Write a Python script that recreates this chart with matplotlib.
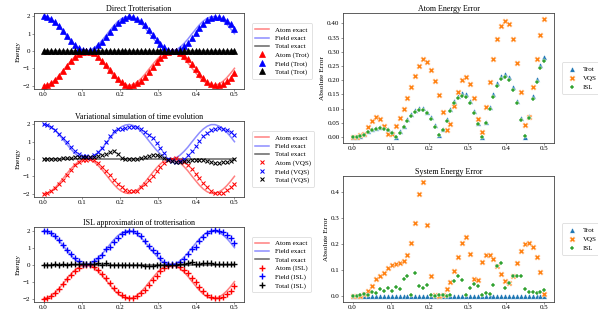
import matplotlib
matplotlib.use('Agg')
import matplotlib.pyplot as plt
import numpy as np

plt.rcParams['font.family'] = ['Liberation Serif', 'DejaVu Serif']

# time grid
t = [0.0000, 0.0102, 0.0204, 0.0306, 0.0408, 0.0510, 0.0612, 0.0714, 0.0816, 0.0918,
     0.1020, 0.1122, 0.1224, 0.1327, 0.1429, 0.1531, 0.1633, 0.1735, 0.1837, 0.1939,
     0.2041, 0.2143, 0.2245, 0.2347, 0.2449, 0.2551, 0.2653, 0.2755, 0.2857, 0.2959,
     0.3061, 0.3163, 0.3265, 0.3367, 0.3469, 0.3571, 0.3673, 0.3776, 0.3878, 0.3980,
     0.4082, 0.4184, 0.4286, 0.4388, 0.4490, 0.4592, 0.4694, 0.4796, 0.4898, 0.5000]

# exact energies
atom_exact = [-2.00, -1.96, -1.84, -1.65, -1.40, -1.13, -0.84, -0.57, -0.33, -0.15,
              -0.03, -0.00, -0.05, -0.18, -0.38, -0.62, -0.90, -1.19, -1.46, -1.70,
              -1.87, -1.97, -2.00, -1.94, -1.80, -1.60, -1.35, -1.06, -0.78, -0.51,
              -0.28, -0.11, -0.02, -0.00, -0.07, -0.22, -0.43, -0.68, -0.97, -1.25,
              -1.52, -1.74, -1.90, -1.99, -1.99, -1.91, -1.76, -1.55, -1.29, -1.00]
field_exact = [2.00, 1.96, 1.84, 1.65, 1.40, 1.13, 0.84, 0.57, 0.33, 0.15,
               0.03, 0.00, 0.05, 0.18, 0.38, 0.62, 0.90, 1.19, 1.46, 1.70,
               1.87, 1.97, 2.00, 1.94, 1.80, 1.60, 1.35, 1.06, 0.78, 0.51,
               0.28, 0.11, 0.02, 0.00, 0.07, 0.22, 0.43, 0.68, 0.97, 1.25,
               1.52, 1.74, 1.90, 1.99, 1.99, 1.91, 1.76, 1.55, 1.29, 1.00]
total_exact = [0.0] * 50

# Trotterisation
atom_trot = [-2.00, -1.96, -1.84, -1.66, -1.43, -1.16, -0.87, -0.60, -0.36, -0.17,
             -0.05, -0.00, -0.03, -0.14, -0.32, -0.55, -0.81, -1.09, -1.37, -1.61,
             -1.81, -1.94, -2.00, -1.98, -1.88, -1.71, -1.48, -1.22, -0.94, -0.66,
             -0.41, -0.21, -0.07, -0.00, -0.02, -0.11, -0.27, -0.49, -0.75, -1.03,
             -1.31, -1.56, -1.77, -1.92, -1.99, -1.99, -1.90, -1.75, -1.54, -1.28]
field_trot = [2.00, 1.96, 1.84, 1.66, 1.43, 1.16, 0.87, 0.60, 0.36, 0.17,
              0.05, 0.00, 0.03, 0.14, 0.32, 0.55, 0.81, 1.09, 1.37, 1.61,
              1.81, 1.94, 2.00, 1.98, 1.88, 1.71, 1.48, 1.22, 0.94, 0.66,
              0.41, 0.21, 0.07, 0.00, 0.02, 0.11, 0.27, 0.49, 0.75, 1.03,
              1.31, 1.56, 1.77, 1.92, 1.99, 1.99, 1.90, 1.75, 1.54, 1.28]
total_trot = [0.0] * 50

# VQS
atom_vqs = [-2.00, -1.96, -1.85, -1.66, -1.44, -1.19, -0.91, -0.63, -0.37, -0.16,
            -0.04, -0.04, 0.02, -0.08, -0.24, -0.45, -0.68, -0.94, -1.19, -1.43,
            -1.63, -1.77, -1.85, -1.85, -1.83, -1.65, -1.46, -1.22, -0.98, -0.72,
            -0.47, -0.25, -0.08, -0.02, 0.04, -0.03, -0.16, -0.34, -0.58, -0.84,
            -1.12, -1.40, -1.64, -1.83, -1.95, -1.98, -1.94, -1.82, -1.65, -1.42]
field_vqs = [2.00, 1.96, 1.85, 1.67, 1.46, 1.23, 0.98, 0.71, 0.46, 0.27,
             0.16, 0.17, 0.11, 0.22, 0.40, 0.65, 0.96, 1.33, 1.63, 1.71,
             1.71, 1.78, 1.85, 1.86, 1.86, 1.71, 1.56, 1.37, 1.19, 0.95,
             0.63, 0.32, 0.02, -0.11, -0.20, -0.13, 0.02, 0.22, 0.49, 0.78,
             1.07, 1.32, 1.51, 1.66, 1.75, 1.77, 1.75, 1.67, 1.56, 1.41]
total_vqs = [0.000, 0.000, 0.002, 0.009, 0.020, 0.040, 0.067, 0.079, 0.091, 0.107,
             0.122, 0.126, 0.128, 0.136, 0.159, 0.204, 0.284, 0.394, 0.441, 0.275,
             0.077, 0.006, 0.002, 0.006, 0.027, 0.056, 0.098, 0.151, 0.206, 0.228,
             0.163, 0.067, -0.064, -0.130, -0.157, -0.159, -0.144, -0.117, -0.087, -0.058,
             -0.050, -0.079, -0.128, -0.175, -0.203, -0.206, -0.188, -0.151, -0.095, -0.010]

# ISL
atom_isl = [-2.00, -1.96, -1.84, -1.66, -1.42, -1.15, -0.87, -0.60, -0.36, -0.17,
            -0.04, -0.00, -0.03, -0.15, -0.32, -0.55, -0.81, -1.10, -1.37, -1.62,
            -1.81, -1.93, -1.99, -1.96, -1.86, -1.69, -1.47, -1.20, -0.93, -0.65,
            -0.40, -0.20, -0.07, -0.00, -0.02, -0.12, -0.29, -0.50, -0.77, -1.04,
            -1.32, -1.57, -1.78, -1.93, -1.99, -1.98, -1.89, -1.74, -1.53, -1.27]
field_isl = [2.00, 1.96, 1.84, 1.67, 1.43, 1.17, 0.86, 0.63, 0.38, 0.20,
             0.06, 0.04, 0.06, 0.22, 0.40, 0.55, 0.90, 1.06, 1.34, 1.58,
             1.81, 1.93, 1.99, 1.96, 1.86, 1.69, 1.41, 1.12, 0.87, 0.66,
             0.37, 0.15, 0.03, 0.01, 0.01, 0.13, 0.33, 0.62, 0.90, 1.07,
             1.37, 1.65, 1.86, 2.01, 2.02, 2.00, 1.91, 1.75, 1.55, 1.30]
total_isl = [0.000, 0.002, -0.003, 0.009, 0.005, 0.015, -0.011, 0.027, 0.020, 0.032,
             0.020, 0.036, 0.028, 0.067, 0.077, 0.005, 0.089, -0.038, -0.030, -0.044,
             0.003, -0.002, 0.004, -0.003, 0.002, -0.005, -0.060, -0.077, -0.064, 0.006,
             -0.033, -0.046, -0.040, 0.005, -0.011, 0.009, 0.042, 0.116, 0.128, 0.033,
             0.052, 0.079, 0.077, 0.077, 0.027, 0.015, 0.015, 0.012, 0.017, 0.025]

# Absolute errors: atom energy
atom_err_trot = [0.000, 0.002, 0.005, 0.010, 0.020, 0.027, 0.033, 0.036, 0.035, 0.028,
                 0.017, 0.000, 0.020, 0.040, 0.063, 0.082, 0.095, 0.102, 0.102, 0.090,
                 0.070, 0.042, 0.008, 0.027, 0.064, 0.100, 0.128, 0.146, 0.154, 0.150,
                 0.128, 0.092, 0.050, 0.000, 0.054, 0.105, 0.152, 0.190, 0.216, 0.222,
                 0.210, 0.175, 0.128, 0.066, 0.000, 0.073, 0.143, 0.204, 0.253, 0.282]
atom_err_vqs = [0.000, 0.002, 0.006, 0.012, 0.035, 0.056, 0.072, 0.064, 0.038, 0.012,
                0.012, 0.040, 0.067, 0.100, 0.137, 0.175, 0.216, 0.250, 0.274, 0.266,
                0.237, 0.198, 0.148, 0.090, 0.025, 0.045, 0.108, 0.160, 0.200, 0.210,
                0.187, 0.136, 0.064, 0.018, 0.105, 0.195, 0.274, 0.344, 0.390, 0.410,
                0.397, 0.344, 0.262, 0.157, 0.043, 0.070, 0.178, 0.274, 0.358, 0.416]
atom_err_isl = [0.000, 0.002, 0.004, 0.009, 0.018, 0.024, 0.029, 0.031, 0.030, 0.024,
                0.014, 0.002, 0.016, 0.035, 0.057, 0.075, 0.088, 0.094, 0.094, 0.083,
                0.064, 0.037, 0.006, 0.024, 0.058, 0.093, 0.120, 0.138, 0.145, 0.141,
                0.119, 0.085, 0.045, 0.002, 0.048, 0.098, 0.142, 0.180, 0.205, 0.211,
                0.200, 0.166, 0.120, 0.061, 0.003, 0.066, 0.134, 0.193, 0.242, 0.268]

# Absolute errors: system (total) energy
sys_err_trot = [0.0] * 50
sys_err_vqs = [0.000, 0.000, 0.002, 0.009, 0.020, 0.040, 0.067, 0.079, 0.091, 0.107,
               0.122, 0.126, 0.128, 0.136, 0.159, 0.204, 0.284, 0.394, 0.441, 0.275,
               0.077, 0.006, 0.002, 0.006, 0.027, 0.056, 0.098, 0.151, 0.206, 0.228,
               0.163, 0.067, 0.064, 0.130, 0.157, 0.159, 0.144, 0.117, 0.087, 0.058,
               0.050, 0.079, 0.128, 0.175, 0.203, 0.206, 0.188, 0.151, 0.095, 0.010]
sys_err_isl = [0.000, 0.002, 0.003, 0.009, 0.005, 0.015, 0.011, 0.027, 0.020, 0.032,
               0.020, 0.036, 0.028, 0.067, 0.077, 0.005, 0.089, 0.038, 0.030, 0.044,
               0.003, 0.002, 0.004, 0.003, 0.002, 0.005, 0.060, 0.077, 0.064, 0.006,
               0.033, 0.046, 0.040, 0.005, 0.011, 0.009, 0.042, 0.116, 0.128, 0.033,
               0.052, 0.079, 0.077, 0.077, 0.027, 0.015, 0.015, 0.012, 0.017, 0.025]

titles_left = ['Direct Trotterisation', 'Variational simulation of time evolution',
               'ISL approximation of trotterisation']
method_names = ['Trot', 'VQS', 'ISL']
xticks = [0.0, 0.1, 0.2, 0.3, 0.4, 0.5]

FS_TICK = 10
FS_LAB = 10.5
FS_TITLE = 11.5
FS_LEG = 10
SPINE = '#444444'

fig = plt.figure(figsize=(11.96, 6.24), dpi=50)


def style(ax):
    for s in ax.spines.values():
        s.set_color(SPINE)
        s.set_linewidth(1.2)
    ax.tick_params(labelsize=FS_TICK, length=3, width=0.8, color=SPINE, pad=2)
    ax.set_xticks(xticks)
    ax.set_xticklabels(['%.1f' % v for v in xticks])


left_pos = [[0.0569, 0.7147, 0.3512, 0.2436],
            [0.0569, 0.3686, 0.3512, 0.2436],
            [0.0569, 0.0321, 0.3512, 0.2404]]
series = [(atom_trot, field_trot, total_trot, '^', 7.5, 1.0),
          (atom_vqs, field_vqs, total_vqs, 'x', 7, 1.5),
          (atom_isl, field_isl, total_isl, '+', 8, 2.0)]

for i in range(3):
    ax = fig.add_axes(left_pos[i])
    a, f, tt, mk, ms, mew = series[i]
    nm = method_names[i]
    ax.plot(t, atom_exact, color='red', alpha=0.5, lw=2.2, label='Atom exact')
    ax.plot(t, field_exact, color='blue', alpha=0.45, lw=2.2, label='Field exact')
    ax.plot(t, total_exact, color='black', alpha=0.6, lw=2.2, label='Total exact')
    ax.plot(t, a, ls='none', marker=mk, color='red', ms=ms, mew=mew, label='Atom (%s)' % nm)
    ax.plot(t, f, ls='none', marker=mk, color='blue', ms=ms, mew=mew, label='Field (%s)' % nm)
    ax.plot(t, tt, ls='none', marker=mk, color='black', ms=ms, mew=mew, label='Total (%s)' % nm)
    ax.set_title(titles_left[i], fontsize=FS_TITLE, pad=3)
    ax.set_ylabel('Energy', fontsize=FS_LAB, labelpad=3)
    ax.set_yticks([-2, -1, 0, 1, 2])
    style(ax)
    ax.legend(loc='center left', bbox_to_anchor=(1.02, 0.5), fontsize=FS_LEG,
              handlelength=2.0, borderpad=0.5, labelspacing=0.35, handletextpad=0.8)

right_pos = [[0.5736, 0.5417, 0.3528, 0.4167],
             [0.5736, 0.0321, 0.3528, 0.4038]]
right_titles = ['Atom Energy Error', 'System Energy Error']
err_sets = [(atom_err_trot, atom_err_vqs, atom_err_isl),
            (sys_err_trot, sys_err_vqs, sys_err_isl)]
mk_r = ['^', 'X', 'P']
col_r = ['tab:blue', 'tab:orange', 'tab:green']
sz_r = [60, 70, 48]
for i in range(2):
    ax = fig.add_axes(right_pos[i])
    for j in range(3):
        ax.scatter(t, err_sets[i][j], marker=mk_r[j], color=col_r[j], s=sz_r[j],
                   edgecolors='white', linewidths=0.6, label=method_names[j], zorder=3 + j)
    ax.set_title(right_titles[i], fontsize=FS_TITLE, pad=3)
    ax.set_ylabel('Absolute Error', fontsize=FS_LAB, labelpad=3)
    style(ax)
    if i == 0:
        yt = [0.0, 0.05, 0.1, 0.15, 0.2, 0.25, 0.3, 0.35, 0.4]
        ax.set_yticks(yt)
        ax.set_yticklabels(['%.2f' % v for v in yt])
    else:
        yt = [0.0, 0.1, 0.2, 0.3, 0.4]
        ax.set_yticks(yt)
        ax.set_yticklabels(['%.1f' % v for v in yt])
    ax.legend(loc='center left', bbox_to_anchor=(1.02, 0.5), fontsize=FS_LEG,
              handletextpad=0.5, borderpad=0.5, labelspacing=0.5)

fig.savefig('out.png', dpi=50)
